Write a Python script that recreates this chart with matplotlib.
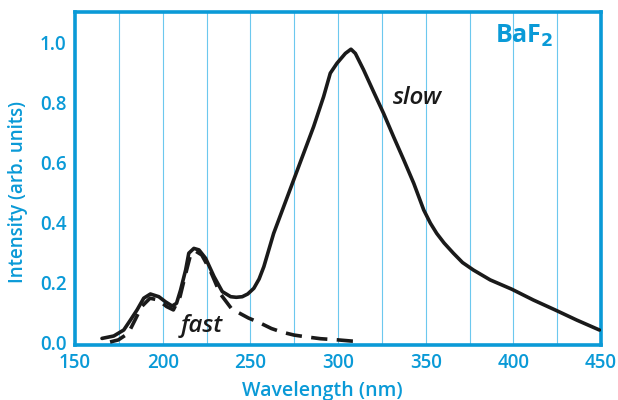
import numpy as np
import matplotlib.pyplot as plt

# slow component (solid line)
slow_wl = [165.4, 172.1, 177.8, 181.6, 185.4, 189.2, 193, 197.8, 201.6, 205.4, 207.9, 210.2,
           213.1, 214.9, 217.8, 220.7, 224.5, 229.3, 234, 238.8, 242, 245.4, 248.5, 252,
           255, 257.7, 263.3, 269, 274.7, 280.4, 286.1, 291.8, 295.6, 299.4, 304.2, 307.4,
           309.9, 314.6, 320.3, 326, 331.7, 337.5, 343.2, 348.9, 352.7, 356.3, 360.5, 365.8,
           371, 377.2, 386.8, 399.1, 411.4, 423.8, 436.2, 449.1]
slow_int = [0.012, 0.02, 0.04, 0.073, 0.107, 0.146, 0.16, 0.151, 0.134, 0.12, 0.129, 0.173,
            0.24, 0.296, 0.312, 0.307, 0.279, 0.218, 0.168, 0.151, 0.149, 0.151, 0.16, 0.179,
            0.21, 0.251, 0.362, 0.451, 0.54, 0.629, 0.718, 0.818, 0.896, 0.929, 0.962, 0.976,
            0.962, 0.907, 0.834, 0.762, 0.684, 0.607, 0.529, 0.44, 0.396, 0.362, 0.33, 0.296,
            0.265, 0.24, 0.207, 0.176, 0.14, 0.107, 0.073, 0.04]

# fast component (dashed line)
fast_wl = [170, 174.7, 180.4, 184.2, 188, 192.8, 197.5, 202.3, 206.1, 209.9, 212.7, 215.6,
           218.5, 222.3, 227, 232.7, 239.4, 248.9, 255, 262, 268, 275, 282, 290, 300, 308, 312]
fast_int = [0.0, 0.007, 0.029, 0.073, 0.118, 0.146, 0.14, 0.118, 0.107, 0.151, 0.218, 0.284,
            0.304, 0.29, 0.24, 0.162, 0.11, 0.08, 0.065, 0.045, 0.033, 0.023, 0.017, 0.011,
            0.007, 0.003, 0.002]

xticks = [150, 200, 250, 300, 350, 400, 450]
yticks = [0.0, 0.2, 0.4, 0.6, 0.8, 1.0]
grid_x = [175, 200, 225, 250, 275, 300, 325, 350, 375, 400, 425]

blue = '#0a9ad7'
gridblue = '#6cc8ee'
ink = '#1a1a1a'

plt.rcParams['font.family'] = ['Open Sans', 'DejaVu Sans']

fig = plt.figure(figsize=(6.18, 4.0), dpi=100)
ax = fig.add_axes([75 / 618, 1 - 345 / 400, (601 - 75) / 618, (345 - 12) / 400])

for g in grid_x:
    ax.axvline(g, color=gridblue, lw=0.8, zorder=1)

ax.plot(slow_wl, slow_int, color=ink, lw=2.6, solid_joinstyle='round', solid_capstyle='round', zorder=3)
ax.plot(fast_wl, fast_int, color=ink, lw=2.6, dashes=(4.5, 2.6), zorder=3)

ax.set_xlim(150, 450)
ax.set_ylim(-0.01, 1.1)
ax.set_xticks(xticks)
ax.set_yticks(yticks)
ax.set_yticklabels([f'{v:.1f}' for v in yticks])
ax.tick_params(length=0, labelsize=13.5, labelcolor=blue, pad=6)
for lab in ax.get_xticklabels() + ax.get_yticklabels():
    lab.set_fontweight('semibold')

for s in ax.spines.values():
    s.set_color(blue)
    s.set_linewidth(2.6)

ax.set_xlabel('Wavelength (nm)', color=blue, fontsize=14, fontweight='semibold')
ax.xaxis.set_label_coords(0.47, -0.108)
ax.set_ylabel('Intensity (arb. units)', color=blue, fontsize=13.5, fontweight='semibold')
ax.yaxis.set_label_coords(-0.09, 0.46)

ax.text(345.5, 0.815, 'slow', fontsize=17.5, style='italic', fontweight='semibold', color=ink,
        ha='center', va='center')
ax.text(222, 0.055, 'fast', fontsize=17.5, style='italic', fontweight='semibold', color=ink,
        ha='center', va='center')
ax.text(406, 1.02, 'BaF$_\\mathbf{2}$', fontsize=18, fontweight='bold', color=blue, ha='center', va='center')

fig.savefig('out.png', dpi=100)
